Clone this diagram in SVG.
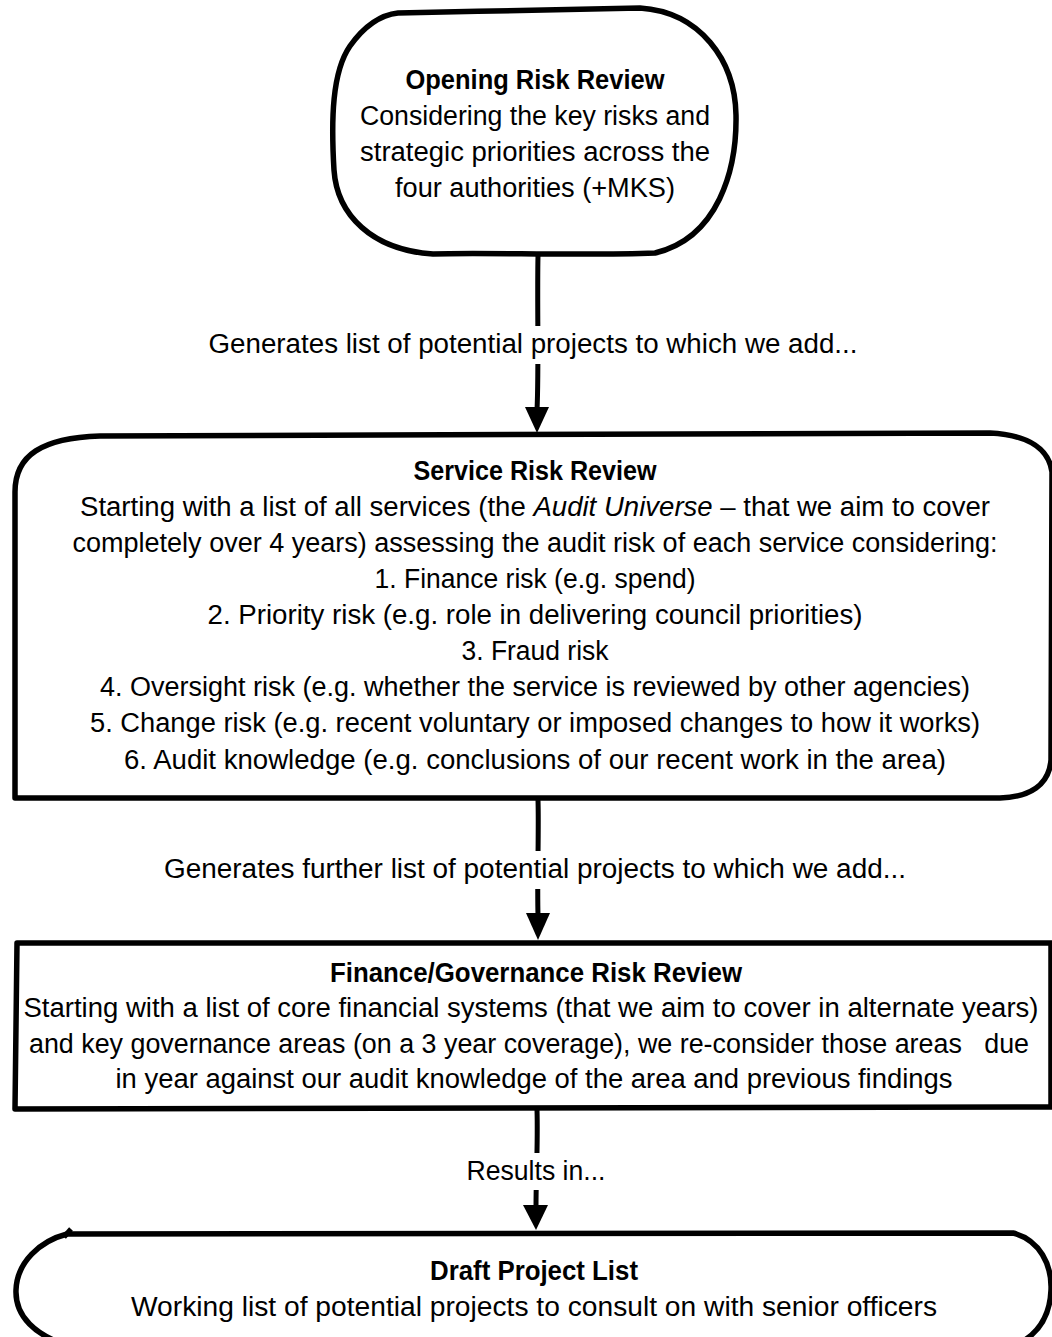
<svg xmlns="http://www.w3.org/2000/svg" width="1052" height="1337" viewBox="0 0 1052 1337">
<style>
.t{font-family:"Liberation Sans",Arial,sans-serif;font-size:26.8px;fill:#000;text-anchor:middle}
.b{font-weight:bold}
.box{fill:#fff;stroke:#000;stroke-width:5.5;stroke-linejoin:round;stroke-linecap:round}
.ln{fill:none;stroke:#000;stroke-width:5;stroke-linecap:butt}
.bg{fill:#fff;stroke:none}
</style>
<rect width="1052" height="1337" fill="#fff"/>
<g id="connectors">
  <path class="ln" d="M 538 256 C 537 300 539 370 537 410"/>
  <polygon points="525,407 549,407 537,433"/>
  <rect class="bg" x="200" y="326" width="670" height="38"/>
  <text class="t" x="533" y="353" textLength="649" lengthAdjust="spacingAndGlyphs">Generates list of potential projects to which we add...</text>

  <path class="ln" d="M 538 800 C 539 830 537 880 538 915"/>
  <polygon points="526,913 550,913 538,940"/>
  <rect class="bg" x="155" y="851" width="760" height="38"/>
  <text class="t" x="535" y="878" textLength="742" lengthAdjust="spacingAndGlyphs">Generates further list of potential projects to which we add...</text>

  <path class="ln" d="M 537 1110 C 538 1140 536 1180 536 1206"/>
  <polygon points="523,1205 548,1205 536,1230"/>
  <rect class="bg" x="462" y="1153" width="148" height="37"/>
  <text class="t" x="536" y="1180" textLength="139" lengthAdjust="spacingAndGlyphs">Results in...</text>
</g>
<g id="node-opening">
  <path class="box" d="M 398 13 C 480 11 580 10 640 8 C 700 12 735 60 736 115 C 737 170 718 238 655 253 C 580 256 480 252 433 254 C 372 250 337 215 334 170 C 331 120 332 72 350 46 C 365 25 380 15 398 13 Z" stroke-width="6"/>
  <text class="t b" x="535" y="89" textLength="259" lengthAdjust="spacingAndGlyphs">Opening Risk Review</text>
  <text class="t" x="535" y="125" textLength="350" lengthAdjust="spacingAndGlyphs">Considering the key risks and</text>
  <text class="t" x="535" y="161" textLength="350" lengthAdjust="spacingAndGlyphs">strategic priorities across the</text>
  <text class="t" x="535" y="197" textLength="280" lengthAdjust="spacingAndGlyphs">four authorities (+MKS)</text>
</g>
<g id="node-service">
  <path class="box" d="M 15 798 L 15 492 C 15 455 42 438 100 436 L 990 433 C 1030 435 1049 450 1052 472 L 1051 760 C 1049 785 1030 797 1000 798 Z"/>
  <text class="t b" x="535" y="480" textLength="243" lengthAdjust="spacingAndGlyphs">Service Risk Review</text>
  <text class="t" x="535" y="516" textLength="910" lengthAdjust="spacingAndGlyphs">Starting with a list of all services (the <tspan font-style="italic">Audit Universe</tspan> – that we aim to cover</text>
  <text class="t" x="535" y="552" textLength="925" lengthAdjust="spacingAndGlyphs">completely over 4 years) assessing the audit risk of each service considering:</text>
  <text class="t" x="535" y="588" textLength="321" lengthAdjust="spacingAndGlyphs">1. Finance risk (e.g. spend)</text>
  <text class="t" x="535" y="624" textLength="655" lengthAdjust="spacingAndGlyphs">2. Priority risk (e.g. role in delivering council priorities)</text>
  <text class="t" x="535" y="660" textLength="147" lengthAdjust="spacingAndGlyphs">3. Fraud risk</text>
  <text class="t" x="535" y="696" textLength="870" lengthAdjust="spacingAndGlyphs">4. Oversight risk (e.g. whether the service is reviewed by other agencies)</text>
  <text class="t" x="535" y="732" textLength="890" lengthAdjust="spacingAndGlyphs">5. Change risk (e.g. recent voluntary or imposed changes to how it works)</text>
  <text class="t" x="535" y="769" textLength="822" lengthAdjust="spacingAndGlyphs">6. Audit knowledge (e.g. conclusions of our recent work in the area)</text>
</g>
<g id="node-finance">
  <path class="box" d="M 17 943 L 1051 943 L 1051 1107 L 15 1109 Z"/>
  <text class="t b" x="536" y="982" textLength="412" lengthAdjust="spacingAndGlyphs">Finance/Governance Risk Review</text>
  <text class="t" x="531" y="1017" textLength="1015" lengthAdjust="spacingAndGlyphs">Starting with a list of core financial systems (that we aim to cover in alternate years)</text>
  <text class="t" x="529" y="1053" textLength="1000" lengthAdjust="spacingAndGlyphs" style="white-space:pre">and key governance areas (on a 3 year coverage), we re-consider those areas   due</text>
  <text class="t" x="534" y="1088" textLength="837" lengthAdjust="spacingAndGlyphs">in year against our audit knowledge of the area and previous findings</text>
</g>
<g id="node-draft">
  <path class="box" d="M 67 1234 L 1013 1233 C 1040 1240 1052 1265 1051 1290 C 1050 1315 1040 1332 1020 1343 L 70 1346 C 35 1336 15 1316 16 1290 C 17 1262 40 1241 67 1234 Z"/>
  <path class="ln" d="M 64 1237 L 71 1229"/>
  <text class="t b" x="534" y="1280" textLength="208" lengthAdjust="spacingAndGlyphs">Draft Project List</text>
  <text class="t" x="534" y="1316" textLength="806" lengthAdjust="spacingAndGlyphs">Working list of potential projects to consult on with senior officers</text>
</g>
</svg>
